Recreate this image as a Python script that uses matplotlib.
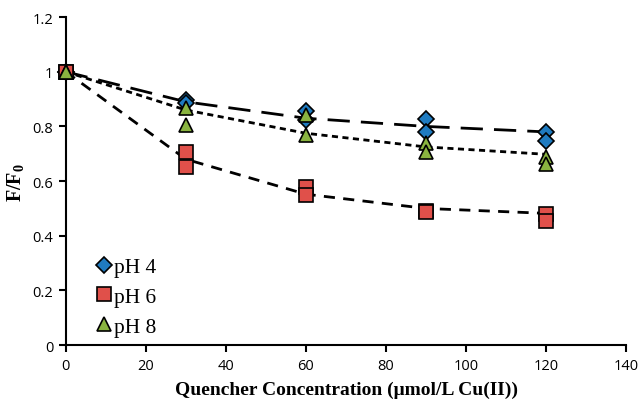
import numpy as np
import matplotlib
matplotlib.use('Agg')
from matplotlib import pyplot as plt

plt.rcParams['mathtext.fontset'] = 'custom'
plt.rcParams['mathtext.rm'] = 'Liberation Serif'
plt.rcParams['mathtext.bf'] = 'Liberation Serif:bold'

# quencher concentration (umol/L Cu(II)), two replicates per point
conc = [0, 30, 60, 90, 120]
ph4_a = [1.0, 0.898, 0.855, 0.828, 0.781]
ph4_b = [1.0, 0.887, 0.825, 0.781, 0.747]
ph6_a = [1.0, 0.708, 0.578, 0.492, 0.478]
ph6_b = [1.0, 0.650, 0.548, 0.487, 0.455]
ph8_a = [1.0, 0.869, 0.843, 0.740, 0.690]
ph8_b = [1.0, 0.807, 0.770, 0.707, 0.662]

# dashed trend lines
ph4_line = [1.0, 0.89, 0.83, 0.80, 0.78]
ph6_line = [1.0, 0.68, 0.552, 0.50, 0.482]
ph8_line = [1.0, 0.86, 0.775, 0.725, 0.698]

blue = '#1F7BC0'
red = '#E0504A'
green = '#8AB440'

fig = plt.figure(figsize=(6.39, 4.02), dpi=100)
ax = fig.add_axes([0.103, 0.139, 0.877, 0.816])

ax.plot(conc, ph4_line, color='black', lw=2, dashes=(8, 4), zorder=2)
ax.plot(conc, ph8_line, color='black', lw=2, dashes=(2.2, 1.6), zorder=2)
ax.plot(conc, ph6_line, color='black', lw=2, dashes=(4, 3), zorder=2)

mk = dict(ls='none', mec='black', mew=1.2, zorder=3, clip_on=False)
ax.plot(conc, ph4_a, marker='D', ms=8.5, mfc=blue, label='pH 4', **mk)
ax.plot(conc, ph4_b, marker='D', ms=8.5, mfc=blue, **mk)
ax.plot(conc, ph6_a, marker='s', ms=10, mfc=red, label='pH 6', **mk)
ax.plot(conc, ph6_b, marker='s', ms=10, mfc=red, **mk)
ax.plot(conc, ph8_a, marker='^', ms=10.5, mfc=green, label='pH 8', **mk)
ax.plot(conc, ph8_b, marker='^', ms=10.5, mfc=green, **mk)

ax.set_xlim(0, 140)
ax.set_ylim(0, 1.2)
ax.set_xticks(range(0, 141, 20))
ax.set_yticks([0, 0.2, 0.4, 0.6, 0.8, 1.0, 1.2])
ax.set_yticklabels(['0', '0.2', '0.4', '0.6', '0.8', '1', '1.2'])
for s in ['top', 'right']:
    ax.spines[s].set_visible(False)
for s in ['left', 'bottom']:
    ax.spines[s].set_linewidth(1.5)
ax.tick_params(direction='out', length=5, width=1.5, labelsize=10.5, pad=4)
for t in ax.get_xticklabels() + ax.get_yticklabels():
    t.set_family('Open Sans')

ax.set_xlabel('Quencher Concentration (μmol/L Cu(II))', family='Liberation Serif',
              fontweight='bold', fontsize=14, labelpad=6)
ax.set_ylabel('F/F$_\\mathbf{0}$', family='Liberation Serif', fontweight='bold',
              fontsize=14.5, labelpad=4)

leg = ax.legend(loc='lower left', bbox_to_anchor=(0.03, -0.02), frameon=False,
                prop={'family': 'Liberation Serif', 'size': 15.5},
                handlelength=0.6, handletextpad=0.15, labelspacing=0.45,
                borderaxespad=0.3)

fig.savefig('out.png', dpi=100)
